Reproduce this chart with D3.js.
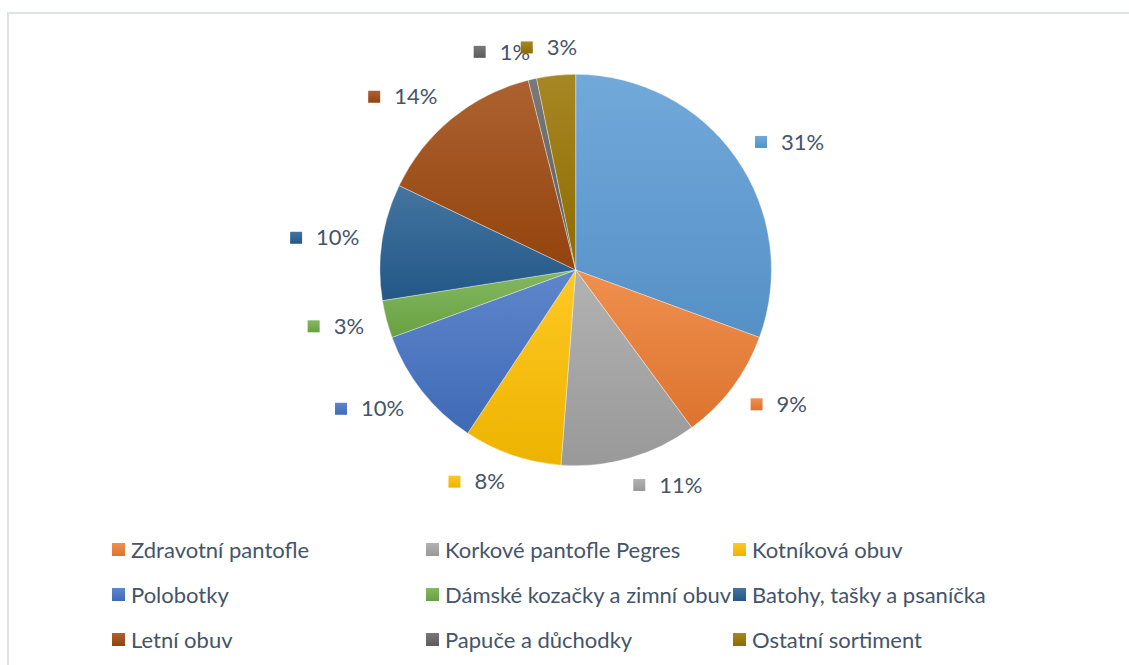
<!DOCTYPE html>
<html>
<head>
<meta charset="utf-8">
<script src="https://cdn.jsdelivr.net/npm/d3@7"></script>
<style>
  html, body { margin: 0; padding: 0; background: #fff; }
  svg { display: block; }
  text { font-family: Lato, "Open Sans", sans-serif; }
</style>
</head>
<body>
<svg id="chart" width="1129" height="665"></svg>
<script>
// ---- data ----
const categories = ["Zdravotní obuv", "Zdravotní pantofle", "Korkové pantofle Pegres", "Kotníková obuv",
  "Polobotky", "Dámské kozačky a zimní obuv", "Batohy, tašky a psaníčka",
  "Letní obuv", "Papuče a důchodky", "Ostatní sortiment"];
const values = [30.6, 9.3, 11.3, 8.1, 10.1, 3.1, 9.6, 14.0, 0.7, 3.2];
const colors = ["#5B9BD5", "#ED7D31", "#A5A5A5", "#FFC000", "#4472C4",
  "#70AD47", "#255E91", "#9E480E", "#636363", "#997300"];
const legendItems = categories.slice(1); // first series not shown in legend

// ---- layout ----
const W = 1129, H = 665;
const cx = 575.7, cy = 270, R = 195.7;
const labelR = R + 23;
const textColor = "#44546A";
const fontSize = 22;

const svg = d3.select("#chart");
const defs = svg.append("defs");

// frame
svg.append("rect").attr("x", 8).attr("y", 13).attr("width", W).attr("height", H)
  .attr("fill", "none").attr("stroke", "#DEE2E8").attr("stroke-width", 2);

// gradients
colors.forEach((c, i) => {
  const g = defs.append("linearGradient").attr("id", "g" + i)
    .attr("x1", 0).attr("y1", 0).attr("x2", 0).attr("y2", 1);
  g.append("stop").attr("offset", "0%").attr("stop-color", d3.interpolateRgb(c, "#fff")(0.14));
  g.append("stop").attr("offset", "100%").attr("stop-color", d3.interpolateRgb(c, "#000")(0.07));
});

const total = d3.sum(values);
const pct = d3.format(".0%");
const pie = d3.pie().sort(null).value(d => d)(values);
const arc = d3.arc().innerRadius(0).outerRadius(R);

const gPie = svg.append("g").attr("transform", `translate(${cx},${cy})`);
gPie.selectAll("path").data(pie).join("path")
  .attr("d", arc)
  .attr("fill", (d, i) => `url(#g${i})`)
  .attr("stroke", "#fff").attr("stroke-width", 0.6).attr("stroke-opacity", 0.6);

// data labels (outside end)
const sq = 12, gap = 14;
const gLab = svg.append("g");
const boxes = pie.map((d, i) => {
  const t = gLab.append("text").attr("font-size", fontSize).text(pct(values[i] / total));
  const tw = t.node().getComputedTextLength();
  const bw = sq + gap + tw;
  const a = (d.startAngle + d.endAngle) / 2;
  const ux = Math.sin(a), uy = -Math.cos(a);
  const fx = Math.max(-1, Math.min(1, ux / 0.3));
  const bx = cx + labelR * ux + fx * bw / 2;
  const by = cy + labelR * uy + uy * 5;
  return { t, tw, bw, bx, by, i };
});
// simple overlap nudge between neighbouring labels
for (let k = boxes.length - 1; k > 0; k--) {
  const a = boxes[k - 1], b = boxes[k];
  const overlapX = (a.bx + a.bw / 2) - (b.bx - b.bw / 2);
  const overlapY = Math.abs(a.by - b.by) < 20;
  if (overlapX > 0 && overlapY && a.bx < b.bx) { a.bx -= overlapX * 0.25; b.bx += overlapX * 0.25; }
}
boxes.forEach(b => {
  const left = b.bx - b.bw / 2;
  gLab.append("rect").attr("x", left).attr("y", b.by - sq / 2)
    .attr("width", sq).attr("height", sq).attr("fill", `url(#g${b.i})`);
  b.t.attr("x", left + sq + gap).attr("y", b.by).attr("dy", "0.35em")
    .attr("fill", textColor);
});

// legend
const colX = [112, 426, 733];
const rowY = [550, 595, 640];
const gLeg = svg.append("g");
legendItems.forEach((name, j) => {
  const i = j + 1;
  const x = colX[j % 3], y = rowY[Math.floor(j / 3)];
  gLeg.append("rect").attr("x", x).attr("y", y - 7).attr("width", 13).attr("height", 13)
    .attr("fill", `url(#g${i})`);
  gLeg.append("text").attr("x", x + 19).attr("y", y).attr("dy", "0.35em")
    .attr("font-size", fontSize).attr("fill", textColor).text(name);
});
</script>
</body>
</html>
